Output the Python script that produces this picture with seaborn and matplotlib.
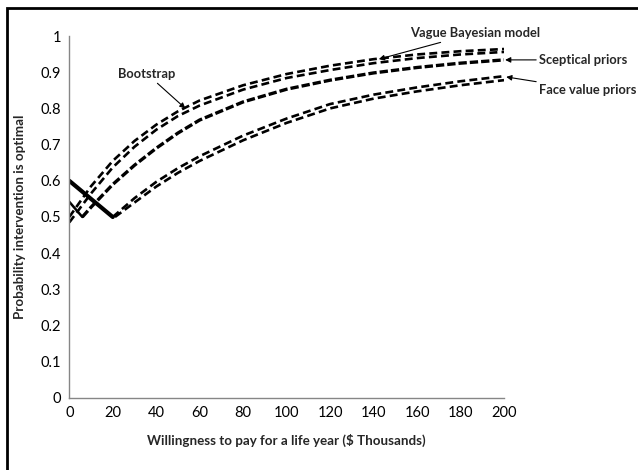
import matplotlib
matplotlib.use("Agg")
import matplotlib.pyplot as plt
import seaborn as sns
from matplotlib.patches import Rectangle

# Values
wtp = [0, 10, 20, 30, 40, 50, 60, 80, 100, 120, 140, 160, 180, 200]
bootstrap = [0.500, 0.585, 0.655, 0.710, 0.755, 0.792, 0.822, 0.864, 0.895, 0.918, 0.936, 0.949, 0.958, 0.964]
vague_bayes = [0.485, 0.565, 0.637, 0.694, 0.741, 0.779, 0.808, 0.852, 0.884, 0.906, 0.925, 0.939, 0.949, 0.956]

sceptical_fall_x = [0, 6]
sceptical_fall = [0.542, 0.500]
sceptical_x = [6, 10, 20, 30, 40, 50, 60, 80, 100, 120, 140, 160, 180, 200]
sceptical = [0.500, 0.527, 0.590, 0.643, 0.690, 0.732, 0.768, 0.818, 0.853, 0.878, 0.898, 0.913, 0.925, 0.934]

face_fall_x = [0, 20]
face_fall = [0.600, 0.500]
face_a_x = [20, 30, 40, 50, 60, 80, 100, 120, 140, 160, 180, 200]
face_a = [0.500, 0.552, 0.597, 0.635, 0.668, 0.725, 0.772, 0.812, 0.838, 0.858, 0.875, 0.889]
face_b_x = [21, 30, 40, 50, 60, 80, 100, 120, 140, 160, 180, 200]
face_b = [0.500, 0.540, 0.584, 0.622, 0.655, 0.712, 0.760, 0.800, 0.827, 0.847, 0.864, 0.878]

sns.set_style("white")
plt.rcParams['font.family'] = ['Lato', 'DejaVu Sans']

fig = plt.figure(figsize=(6.38, 4.70), dpi=100)
ax = fig.add_axes([0.1086, 0.1532, 0.6814, 0.7702])

dash = (0, (3.0, 1.6))
sns.lineplot(x=wtp, y=bootstrap, ax=ax, color='black', lw=1.9, linestyle=dash, estimator=None)
sns.lineplot(x=wtp, y=vague_bayes, ax=ax, color='black', lw=1.9, linestyle=dash, estimator=None)
sns.lineplot(x=sceptical_x, y=sceptical, ax=ax, color='black', lw=2.4, linestyle=(0, (2.5, 0.9)), estimator=None)
sns.lineplot(x=face_a_x, y=face_a, ax=ax, color='black', lw=1.9, linestyle=dash, estimator=None)
sns.lineplot(x=face_b_x, y=face_b, ax=ax, color='black', lw=1.9, linestyle=dash, estimator=None)
sns.lineplot(x=sceptical_fall_x, y=sceptical_fall, ax=ax, color='black', lw=1.8, estimator=None)
sns.lineplot(x=face_fall_x, y=face_fall, ax=ax, color='black', lw=3.0, estimator=None)

ax.set_xlim(0, 200)
ax.set_ylim(0, 1)
ax.set_xticks(range(0, 201, 20))
ax.set_yticks([i / 10 for i in range(11)])
ax.set_yticklabels(['0'] + ['0.%d' % i for i in range(1, 10)] + ['1'])
for s in ['top', 'right']:
    ax.spines[s].set_visible(False)
for s in ['left', 'bottom']:
    ax.spines[s].set_color('#868686')
    ax.spines[s].set_linewidth(1.0)
ax.tick_params(axis='both', direction='out', length=3, width=1, color='#868686',
               labelsize=10.5, labelcolor='black', pad=3)

ax.set_xlabel('Willingness to pay for a life year ($ Thousands)', fontsize=9.6, fontweight='bold', labelpad=10)
ax.set_ylabel('Probability intervention is optimal', fontsize=9.6, fontweight='bold', labelpad=10)

arrow = dict(arrowstyle='-|>', color='black', lw=0.8, mutation_scale=8, shrinkA=0, shrinkB=0)
fs = 9.3
ax.annotate('Bootstrap', xy=(53.4, 0.80), xytext=(35.8, 0.895), fontsize=fs, fontweight='bold',
            ha='center', va='center', arrowprops=arrow, annotation_clip=False)
ax.annotate('Vague Bayesian model', xy=(142.4, 0.936), xytext=(156.6, 1.008), fontsize=fs,
            fontweight='bold', ha='left', va='center', arrowprops=arrow, annotation_clip=False)
ax.annotate('Sceptical priors', xy=(200.5, 0.934), xytext=(216.3, 0.934), fontsize=fs,
            fontweight='bold', ha='left', va='center', arrowprops=arrow, annotation_clip=False)
ax.annotate('Face value priors', xy=(201, 0.887), xytext=(216.3, 0.851), fontsize=fs,
            fontweight='bold', ha='left', va='center', arrowprops=arrow, annotation_clip=False)

# outer frame (only its left and top edges fall inside the image)
fig.patches.append(Rectangle((7 / 638, -0.5), 2.0, 1.5 - 8 / 470,
                             transform=fig.transFigure, fill=False, edgecolor='black', lw=2))

fig.savefig('out.png', dpi=100)
